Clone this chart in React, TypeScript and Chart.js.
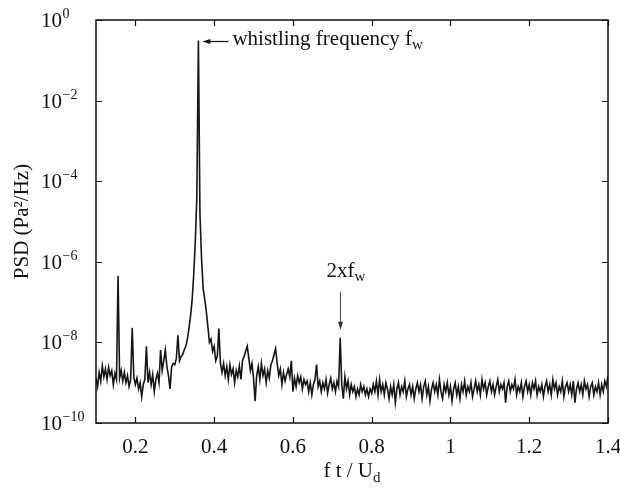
import React, { useEffect, useRef } from "react";
import { Chart, registerables } from "chart.js";

Chart.register(...registerables);

// ---- data ----
const freqStart = 0.1;
const freqStep = 0.004;
const psd = [
  1.3e-9, 8e-10, 1.8e-9, 1.1e-9, 2.6e-9, 1.4e-9, 2.2e-9, 1.2e-9, 2.4e-9, 1.5e-9,
  2.0e-9, 9e-10, 1.7e-9, 1.2e-9, 4.5e-7, 1.3e-9, 2.0e-9, 1.1e-9, 1.8e-9, 1.0e-9,
  1.5e-9, 8e-10, 1.2e-9, 2.3e-8, 1.4e-9, 9e-10, 1.3e-9, 7e-10, 1.0e-9, 4.5e-10,
  9e-10, 1.2e-9, 8e-9, 1.0e-9, 1.8e-9, 9e-10, 1.6e-9, 6e-10, 1.2e-9, 1.7e-9,
  1.0e-9, 6.5e-9, 2.0e-9, 3.5e-9, 6.5e-9, 2.5e-9, 1.5e-9, 7e-10, 2.5e-9, 3.0e-9,
  2.8e-9, 4.0e-9, 1.5e-8, 3.5e-9, 4.5e-9, 5.0e-9, 6.5e-9, 8e-9, 1.2e-8, 2.2e-8,
  4.5e-8, 1.1e-7, 4.5e-7, 3e-6, 4e-5, 0.31, 1.5e-5, 1.2e-6, 2.2e-7, 1.2e-7,
  6e-8, 2.5e-8, 1.0e-8, 1.2e-8, 6e-9, 8e-9, 3.5e-9, 4.5e-9, 2.2e-8, 3.0e-9,
  1.8e-9, 3.0e-9, 1.5e-9, 2.5e-9, 1.2e-9, 2.8e-9, 1.6e-9, 2.2e-9, 1.0e-9, 2.0e-9,
  1.4e-9, 2.6e-9, 1.2e-9, 3.5e-9, 4.5e-9, 6e-9, 8e-9, 4e-9, 2.0e-9, 3.0e-9,
  1.3e-9, 3.5e-10, 1.5e-9, 2.5e-9, 1.2e-9, 3.0e-9, 1.5e-9, 2.2e-9, 1.0e-9, 2.0e-9,
  1.3e-9, 2.8e-9, 3.5e-9, 5e-9, 7e-9, 3.0e-9, 1.5e-9, 2.2e-9, 9e-10, 1.8e-9,
  1.1e-9, 1.6e-9, 2.2e-9, 1.4e-9, 3.5e-9, 6e-10, 1.3e-9, 8e-10, 1.5e-9, 1.0e-9,
  1.4e-9, 7e-10, 1.2e-9, 9e-10, 1.1e-9, 6e-10, 1.0e-9, 5e-10, 9e-10, 1.2e-9,
  2.8e-9, 8e-10, 1.1e-9, 6e-10, 1.0e-9, 7e-10, 1.2e-9, 5.5e-10, 9e-10, 1.3e-9,
  7e-10, 1.0e-9, 6e-10, 1.1e-9, 8e-10, 1.3e-8, 9e-10, 4e-10, 1.4e-9, 7e-10,
  1.1e-9, 5e-10, 9e-10, 6e-10, 8e-10, 4.5e-10, 7e-10, 5e-10, 9e-10, 6e-10,
  8e-10, 5e-10, 7e-10, 4.5e-10, 7e-10, 5.5e-10, 9e-10, 6e-10, 1.1e-9, 5e-10,
  1.2e-9, 6e-10, 9e-10, 5e-10, 1.0e-9, 7e-10, 4e-10, 8e-10, 5e-10, 9e-10,
  3.2e-10, 7e-10, 1.0e-9, 5e-10, 8e-10, 6e-10, 1.1e-9, 4.5e-10, 7e-10, 9e-10,
  5e-10, 8e-10, 4e-10, 7e-10, 1.0e-9, 6e-10, 9e-10, 4e-10, 8e-10, 1.1e-9,
  5e-10, 8e-10, 3.5e-10, 7e-10, 1.0e-9, 6e-10, 9e-10, 5e-10, 1.2e-9, 6e-10,
  4e-10, 9e-10, 6e-10, 1.0e-9, 5e-10, 8e-10, 3.5e-10, 7e-10, 1.0e-9, 5e-10,
  8e-10, 4e-10, 9e-10, 6e-10, 1.1e-9, 5e-10, 8e-10, 6e-10, 1.0e-9, 4.5e-10,
  7e-10, 1.1e-9, 6e-10, 9e-10, 5e-10, 1.2e-9, 7e-10, 1.0e-9, 5e-10, 8e-10,
  1.1e-9, 6e-10, 9e-10, 5e-10, 8e-10, 1.2e-9, 6e-10, 9e-10, 7e-10, 1.0e-9,
  3.2e-10, 8e-10, 1.1e-9, 6e-10, 9e-10, 7e-10, 1.2e-9, 5e-10, 8e-10, 6e-10,
  1.0e-9, 4.5e-10, 8e-10, 1.1e-9, 6e-10, 9e-10, 5e-10, 1.0e-9, 7e-10, 1.1e-9,
  5e-10, 8e-10, 6e-10, 9e-10, 4.5e-10, 8e-10, 1.1e-9, 6e-10, 9e-10, 5e-10,
  1.2e-9, 7e-10, 1.0e-9, 5e-10, 8e-10, 6e-10, 1.1e-9, 4.5e-10, 8e-10, 1.0e-9,
  6e-10, 9e-10, 5e-10, 1.1e-9, 3.2e-10, 7e-10, 1.0e-9, 6e-10, 9e-10, 5e-10,
  1.1e-9, 7e-10, 9e-10, 4.5e-10, 8e-10, 1.0e-9, 5e-10, 8e-10, 6e-10, 1.0e-9,
  5e-10, 9e-10, 6e-10, 1.1e-9, 8e-10, 1.5e-9,
];
const xTickValues = [0.2, 0.4, 0.6, 0.8, 1.0, 1.2, 1.4];
const xTickLabels = ["0.2", "0.4", "0.6", "0.8", "1", "1.2", "1.4"];
const yTickValues = [1, 1e-2, 1e-4, 1e-6, 1e-8, 1e-10];
const yTickExponents = ["0", "\u22122", "\u22124", "\u22126", "\u22128", "\u221210"];
const peakFreq = 0.36;
const harmonicFreq = 0.72;
const peakLabel = "whistling frequency f";
const harmonicLabel = "2xf";
const labelSub = "w";
const xTitle = "f t / U";
const xTitleSub = "d";
const yTitle = "PSD (Pa\u00B2/Hz)";

const SERIF = '"Liberation Serif", "Times New Roman", serif';

const decorPlugin = {
  id: "decor",
  afterDraw(chart: any) {
    const ctx = chart.ctx as CanvasRenderingContext2D;
    const { left, right, top, bottom } = chart.chartArea;
    const xs = chart.scales.x;
    const ys = chart.scales.y;
    ctx.save();
    ctx.strokeStyle = "#111";
    ctx.fillStyle = "#111";
    ctx.lineWidth = 1.5;
    ctx.strokeRect(left, top, right - left, bottom - top);
    // ticks (inward)
    ctx.lineWidth = 1.2;
    const tl = 6;
    xTickValues.forEach((v) => {
      const px = Math.round(xs.getPixelForValue(v)) + 0.5;
      ctx.beginPath();
      ctx.moveTo(px, bottom);
      ctx.lineTo(px, bottom - tl);
      ctx.moveTo(px, top);
      ctx.lineTo(px, top + tl);
      ctx.stroke();
    });
    yTickValues.forEach((v) => {
      const py = Math.round(ys.getPixelForValue(v)) + 0.5;
      ctx.beginPath();
      ctx.moveTo(left, py);
      ctx.lineTo(left + tl, py);
      ctx.moveTo(right, py);
      ctx.lineTo(right - tl, py);
      ctx.stroke();
    });
    // x tick labels
    ctx.font = `21px ${SERIF}`;
    ctx.textAlign = "center";
    ctx.textBaseline = "alphabetic";
    xTickValues.forEach((v, i) => {
      ctx.fillText(xTickLabels[i], xs.getPixelForValue(v), bottom + 30);
    });
    // y tick labels: 10 with superscript exponent
    ctx.textAlign = "left";
    yTickValues.forEach((v, i) => {
      const py = ys.getPixelForValue(v);
      ctx.font = `21px ${SERIF}`;
      ctx.fillText("10", 41, py + 7);
      const w = ctx.measureText("10").width;
      ctx.font = `14px ${SERIF}`;
      ctx.fillText(yTickExponents[i], 41 + w + 0.5, py - 2);
    });
    // x title
    ctx.font = `21px ${SERIF}`;
    const wMain = ctx.measureText(xTitle).width;
    ctx.font = `15px ${SERIF}`;
    const wSub = ctx.measureText(xTitleSub).width;
    const cx = (left + right) / 2;
    const x0 = cx - (wMain + wSub) / 2;
    ctx.font = `21px ${SERIF}`;
    ctx.fillText(xTitle, x0, 477);
    ctx.font = `15px ${SERIF}`;
    ctx.fillText(xTitleSub, x0 + wMain, 482);
    // y title
    ctx.save();
    ctx.translate(28, (top + bottom) / 2);
    ctx.rotate(-Math.PI / 2);
    ctx.font = `21px ${SERIF}`;
    ctx.textAlign = "center";
    ctx.fillText(yTitle, 0, 0);
    ctx.restore();
    // peak annotation
    const peakVal = psd[Math.round((peakFreq - freqStart) / freqStep)];
    const tipX = xs.getPixelForValue(peakFreq) + 4;
    const tipY = ys.getPixelForValue(peakVal) + 1;
    ctx.lineWidth = 1.2;
    ctx.beginPath();
    ctx.moveTo(tipX + 4, tipY);
    ctx.lineTo(tipX + 26, tipY);
    ctx.stroke();
    ctx.beginPath();
    ctx.moveTo(tipX, tipY);
    ctx.lineTo(tipX + 8, tipY - 2.5);
    ctx.lineTo(tipX + 8, tipY + 2.5);
    ctx.closePath();
    ctx.fill();
    ctx.font = `21px ${SERIF}`;
    ctx.textAlign = "left";
    ctx.fillText(peakLabel, tipX + 30, tipY + 4);
    const wp = ctx.measureText(peakLabel).width;
    ctx.font = `15px ${SERIF}`;
    ctx.fillText(labelSub, tipX + 30 + wp, tipY + 8);
    // harmonic annotation
    const hVal = psd[Math.round((harmonicFreq - freqStart) / freqStep)];
    const hx = Math.round(xs.getPixelForValue(harmonicFreq)) + 0.5;
    const hTip = ys.getPixelForValue(hVal) - 8;
    ctx.strokeStyle = "#555";
    ctx.fillStyle = "#333";
    ctx.beginPath();
    ctx.moveTo(hx, hTip - 38);
    ctx.lineTo(hx, hTip - 6);
    ctx.stroke();
    ctx.beginPath();
    ctx.moveTo(hx, hTip);
    ctx.lineTo(hx - 2.5, hTip - 8);
    ctx.lineTo(hx + 2.5, hTip - 8);
    ctx.closePath();
    ctx.fill();
    ctx.fillStyle = "#111";
    ctx.font = `21px ${SERIF}`;
    ctx.fillText(harmonicLabel, hx - 14, hTip - 53);
    const wh = ctx.measureText(harmonicLabel).width;
    ctx.font = `15px ${SERIF}`;
    ctx.fillText(labelSub, hx - 14 + wh, hTip - 49);
    ctx.restore();
  },
};

export default function App() {
  const ref = useRef<HTMLCanvasElement>(null);
  useEffect(() => {
    if (!ref.current) return;
    const points = psd.map((v, i) => ({ x: freqStart + i * freqStep, y: v }));
    const chart = new Chart(ref.current, {
      type: "line",
      data: {
        datasets: [
          {
            data: points,
            borderColor: "#151515",
            borderWidth: 1.6,
            pointRadius: 0,
            tension: 0,
            fill: false,
          },
        ],
      },
      options: {
        animation: false,
        responsive: false,
        events: [],
        layout: { padding: { left: 0, right: 12, top: 20, bottom: 0 } },
        plugins: { legend: { display: false }, tooltip: { enabled: false } },
        scales: {
          x: {
            type: "linear",
            min: 0.1,
            max: 1.4,
            afterBuildTicks: (s: any) => {
              s.ticks = xTickValues.map((v) => ({ value: v }));
            },
            afterFit: (s: any) => {
              s.height = 67;
            },
            ticks: { display: false },
            grid: { display: false },
            border: { display: false },
          },
          y: {
            type: "logarithmic",
            min: 1e-10,
            max: 1,
            afterBuildTicks: (s: any) => {
              s.ticks = yTickValues.map((v) => ({ value: v }));
            },
            afterFit: (s: any) => {
              s.width = 96;
            },
            ticks: { display: false },
            grid: { display: false },
            border: { display: false },
          },
        },
      },
      plugins: [decorPlugin],
    } as any);
    return () => chart.destroy();
  }, []);
  return (
    <div style={{ position: "fixed", left: 0, top: 0, width: 620, height: 490, background: "#fff" }}>
      <canvas ref={ref} width={620} height={490} />
    </div>
  );
}
